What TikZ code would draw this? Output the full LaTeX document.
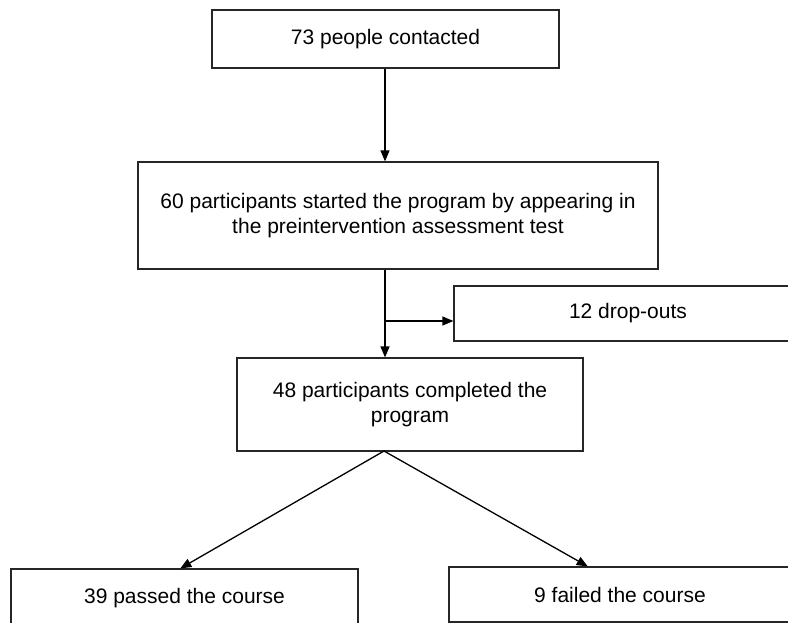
\documentclass[tikz,border=0pt]{standalone}
\usepackage{fontspec}
\setmainfont{Liberation Sans}
\usetikzlibrary{arrows.meta,calc}
\begin{document}
\begin{tikzpicture}[x=1pt,y=-1pt,
  box/.style={draw=black!85,line width=1.2pt,rectangle,inner sep=0pt,align=center,
    font=\fontsize{21}{24.5}\selectfont},
  conn/.style={line width=1.3pt,-{Triangle[length=11pt,width=9pt]}}]
\useasboundingbox (0,0) rectangle (788,623);
\clip (0,0) rectangle (788,623);
\fill[white] (0,0) rectangle (788,623);
\node[box,minimum width=347pt,minimum height=58pt] (b1) at (385.5,39) {73 people contacted};
\node[box,minimum width=520pt,minimum height=107pt] (b2) at (398,215.5)
  {60 participants started the program by appearing in\\the preintervention assessment test};
\node[box,minimum width=348pt,minimum height=55pt] (drop) at (628,313.5) {12 drop-outs};
\node[box,minimum width=346pt,minimum height=93pt] (b4) at (410,404.5)
  {48 participants completed the\\program};
\node[box,minimum width=347pt,minimum height=58pt] (b5) at (184.5,598) {39 passed the course};
\node[box,minimum width=342pt,minimum height=55pt] (b6) at (620,594.5) {9 failed the course};
\coordinate (br) at (385,321);
\coordinate (apex) at (384,451);
\draw[conn] (b1.south -| br) -- (b2.north -| br);
\draw[conn] (b2.south -| br) -- (b4.north -| br);
\draw[conn] (br) -- (br -| drop.west);
\draw[conn] (apex) -- ($(b5.north west)!0.488!(b5.north east)$);
\draw[conn] (apex) -- ($(b6.north west)!0.406!(b6.north east)$);
\end{tikzpicture}
\end{document}
